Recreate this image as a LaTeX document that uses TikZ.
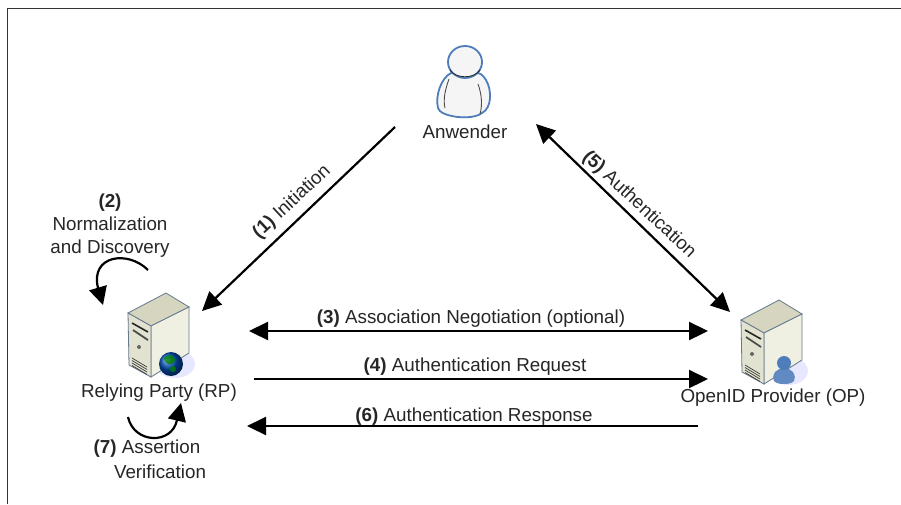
\documentclass[tikz,border=0pt]{standalone}
\usepackage{fontspec}
\setmainfont{Liberation Sans}
\usetikzlibrary{arrows.meta}
\definecolor{srvfront}{HTML}{E2E2D0}
\definecolor{srvside}{HTML}{EFEFE2}
\definecolor{srvtop}{HTML}{D6D6C0}
\definecolor{srvedge}{HTML}{66788C}
\definecolor{userblue}{HTML}{4F7DBB}
\tikzset{
  x=1pt,y=-1pt,
  lbl/.style={font=\fontsize{18.8}{23}\selectfont,text=black!85,inner sep=0pt,align=center},
  flow/.style={line width=2.2pt,draw=black,-{Triangle[length=19pt,width=18pt]}},
  flowboth/.style={line width=2.2pt,draw=black,{Triangle[length=19pt,width=18pt]}-{Triangle[length=19pt,width=18pt]}},
  loopar/.style={line width=2.2pt,draw=black,-{Triangle[length=18pt,width=18pt]}},
  pics/server/.style={code={
    \fill[blue!18,opacity=.5] (24,38) ellipse (20 and 14);
    \filldraw[draw=srvedge,line width=.8pt,fill=srvtop] (-23,-13) -- (15,-33) -- (38,-19) -- (0,0) -- cycle;
    \filldraw[draw=srvedge,line width=.8pt,fill=srvside] (0,0) -- (38,-19) -- (38,27) -- (0,51) -- cycle;
    \filldraw[draw=srvedge,line width=.8pt,fill=srvfront] (-23,-13) -- (0,0) -- (0,51) -- (-22,39) -- cycle;
    \draw[line width=1.6pt,black!85] (-19,-3) -- (-3,6);
    \draw[line width=1.8pt,black!70] (-18,4) -- (-3,14);
    \fill[black!60] (-12,21) circle (2pt);
    \draw[line width=.7pt,black!75] (-19,32) -- (-4,41) (-19,34.5) -- (-4,43.5) (-19,37) -- (-4,46) (-19,39.5) -- (-4,48.5);
  }},
}
\begin{document}
\begin{tikzpicture}
\useasboundingbox (0,0) rectangle (901,504);
\fill[white] (0,0) rectangle (901,504);
\draw[line width=1.6pt,black!80] (7.5,504) -- (7.5,8.5) -- (901,8.5);

% user
\filldraw[draw=userblue,line width=1.8pt,fill=black!4]
  (451,73) .. controls (441,78) and (435,96) .. (438,108)
  .. controls (440,117) and (472,121) .. (482,113)
  .. controls (492,108) and (492,90) .. (486,80)
  .. controls (483,75) and (480,73) .. (477,73) -- cycle;
\filldraw[draw=userblue,line width=1.8pt,fill=black!4] (465,62) circle (17 and 16);
\draw[line width=.8pt,black!85] (450,70) .. controls (456,79) and (474,79) .. (480,70);
\draw[line width=.9pt,black!70] (449,79) .. controls (445,90) and (443,100) .. (445,108);
\draw[line width=.9pt,black!70] (478,84) .. controls (481,92) and (483,104) .. (480,114);
\node[lbl] (anw) at (465,132) {Anwender};

% servers
\coordinate (rpc) at (151,326);
\pic at (rpc) {server};
\shade[ball color=blue!70!green] (171,364) circle (12);
\fill[green!50!black,opacity=.8] (164,358) .. controls (169,353) and (176,355) .. (175,361) .. controls (172,366) and (165,366) .. cycle;
\fill[green!50!black,opacity=.8] (173,369) circle (3);
\node[lbl] (rp) at (159,393) {Relying Party (RP)};

\coordinate (opc) at (764,333);
\pic at (opc) {server};
\fill[userblue!90] (784,384) .. controls (773,384) and (771,379) .. (775,372) .. controls (779,367) and (789,367) .. (793,372) .. controls (797,379) and (795,384) .. (784,384) -- cycle;
\fill[userblue] (784,363) circle (7);
\node[lbl] (op) at (773,398) {OpenID Provider (OP)};

% labels
\node[lbl,align=center] (l2) at (110,226) {\textbf{(2)}\\Normalization\\and Discovery};
\node[lbl] (l7a) at (147,449) {\textbf{(7)} Assertion};
\node[lbl] (l7b) at (160,472) {Verification};
\node[lbl,rotate=43] (l1) at (292,202) {\textbf{(1)} Initiation};
\node[lbl,rotate=-43] (l5) at (639,205) {\textbf{(5)} Authentication};
\node[lbl] (l3) at (471,319) {\textbf{(3)} Association Negotiation (optional)};
\node[lbl] (l4) at (475,367) {\textbf{(4)} Authentication Request};
\node[lbl] (l6) at (474,417) {\textbf{(6)} Authentication Response};

% connector ends
\coordinate (a1) at (395,127);
\coordinate (b1) at (202,311);
\coordinate (a5) at (536,124);
\coordinate (b5) at (730,312);
\coordinate (a3) at (249,331);
\coordinate (b3) at (708,331);
\coordinate (a4) at (254,379);
\coordinate (b4) at (708,379);
\coordinate (a6) at (698,426);
\coordinate (b6) at (247,426);
\draw[flow] (a1) -- (b1);
\draw[flowboth] (a5) -- (b5);
\draw[flowboth] (a3) -- (b3);
\draw[flow] (a4) -- (b4);
\draw[flow] (a6) -- (b6);

% loops
\coordinate (s2) at (148,270);
\coordinate (e2) at (103,305);
\coordinate (s7) at (128,417);
\coordinate (e7) at (181,403);
\draw[loopar] (s2) .. controls (128,250) and (90,255) .. (98,288) -- (e2);
\draw[loopar] (s7) .. controls (134,444) and (172,445) .. (177,420) -- (e7);
\end{tikzpicture}
\end{document}
